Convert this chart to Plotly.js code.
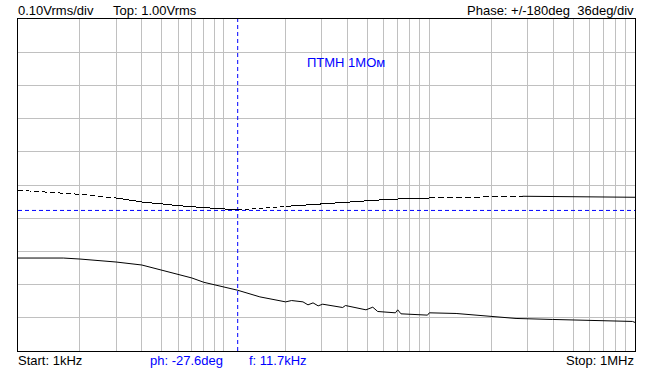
<!DOCTYPE html>
<html>
<head>
<meta charset="utf-8">
<script src="https://cdn.plot.ly/plotly-3.0.1.min.js"></script>
<style>html,body{margin:0;padding:0;background:#fff;}#chart{width:653px;height:369px;}
#chart .scatterlayer path.js-line{shape-rendering:crispEdges;}
#chart .scatterlayer g.trace:nth-last-child(-n+2) path.js-line{shape-rendering:auto;}</style>
</head>
<body>
<div id="chart"></div>
<script>
// Magnitude trace (Vrms) vs frequency (kHz)
var magFreqKHz = [1.0, 1.66, 2.0, 2.5, 3.0, 4.0, 5.0, 6.0, 7.0, 8.0, 9.0, 10, 11.7, 15, 20, 21.4, 24.3, 25.7, 27.2, 28.8, 30.3, 37.9, 39.1, 49.2, 53.1, 56.1, 68.4, 70.2, 72.8, 98, 100, 135, 196, 264, 398, 623, 973, 1000];
var magVrms    = [0.280, 0.280, 0.277, 0.273, 0.268, 0.259, 0.243, 0.231, 0.220, 0.207, 0.200, 0.192, 0.183, 0.163, 0.148, 0.152, 0.148, 0.139, 0.145, 0.136, 0.141, 0.131, 0.137, 0.124, 0.132, 0.119, 0.115, 0.124, 0.112, 0.108, 0.115, 0.113, 0.105, 0.098, 0.095, 0.092, 0.089, 0.086];

// Phase trace (deg) vs frequency (kHz)
var phaseFreqKHz = [1, 2, 3, 4, 5, 6, 8, 10, 11.7, 15, 20, 30.3, 37.9, 49.2, 64, 100, 196, 284, 600, 1000];
var phaseDeg     = [-5.7, -10.1, -14.1, -18.4, -20.5, -22.4, -24.5, -25.9, -27.0, -24.9, -23.2, -20.5, -18.7, -17.0, -15.5, -14.1, -13.0, -12.2, -13.0, -13.3];

// Cursor readout
var cursorFreqKHz = 11.7;
var cursorPhaseDeg = -27.6;

// Axis settings
var startHz = 1000, stopHz = 1e6;
var topVrms = 1.00, voltsPerDiv = 0.10;
var phaseMax = 180, degPerDiv = 36;

// Labels
var labelTopLeft = "0.10Vrms/div";
var labelTop = "Top: 1.00Vrms";
var labelPhase = "Phase: +/-180deg  36deg/div";
var labelStart = "Start: 1kHz";
var labelStop = "Stop: 1MHz";
var labelPh = "ph: -27.6deg";
var labelF = "f: 11.7kHz";
var labelName = "ПТМН 1МОм";

var gridVals = [];
[1000, 10000, 100000].forEach(function(d){ for (var k = 1; k <= 9; k++) gridVals.push(k*d); });
gridVals.push(1e6);

var toHz = function(a){ return a.map(function(v){ return v*1000; }); };

var traces = [];
traces.push({x: toHz(magFreqKHz), y: magVrms, mode: 'lines', line: {color: '#000', width: 1}, hoverinfo: 'skip', showlegend: false});

// phase split into dash-style segments (index ranges)
var segs = [[0,2,'5px,3px'],[2,8,'solid'],[8,10,'4px,3px'],[10,15,'solid'],[15,17,'6px,3px'],[17,19,'solid']];
var phHz = toHz(phaseFreqKHz);
segs.forEach(function(s){
  traces.push({x: phHz.slice(s[0], s[1]+1), y: phaseDeg.slice(s[0], s[1]+1), yaxis: 'y2', mode: 'lines',
    line: {color: '#000', width: 1, dash: s[2]}, hoverinfo: 'skip', showlegend: false});
});

// cursor lines
traces.push({x: [cursorFreqKHz*1000, cursorFreqKHz*1000], y: [0, topVrms], mode: 'lines',
  line: {color: '#0000ff', width: 1, dash: '4px,3px'}, hoverinfo: 'skip', showlegend: false});
traces.push({x: [startHz, stopHz], y: [cursorPhaseDeg, cursorPhaseDeg], yaxis: 'y2', mode: 'lines',
  line: {color: '#0000ff', width: 1, dash: '4px,3px'}, hoverinfo: 'skip', showlegend: false});

var L = 18, R = 635.5, T = 18.5, B = 351.5;
function px(x){ return (x - L)/(R - L); }
function py(y){ return (B - y)/(B - T); }
var fnt = {family: 'Liberation Sans, Arial, sans-serif', size: 13, color: '#000'};
var blue = {family: 'Liberation Sans, Arial, sans-serif', size: 13, color: '#0000ff'};
function ann(text, x, y, anchor, font){
  return {text: text, xref: 'paper', yref: 'paper', x: px(x), y: py(y), xanchor: anchor, yanchor: 'middle',
    showarrow: false, font: font, borderpad: 0};
}
var annotations = [
  ann(labelTopLeft, 17, 10, 'left', fnt),
  ann(labelTop, 112, 10, 'left', fnt),
  ann(labelPhase, 636, 10, 'right', fnt),
  ann(labelStart, 17, 361, 'left', fnt),
  ann(labelPh, 149, 361, 'left', blue),
  ann(labelF, 248, 361, 'left', blue),
  ann(labelStop, 635, 361, 'right', fnt),
  ann(labelName, 306, 62, 'left', blue)
];

var layout = {
  width: 653, height: 369,
  margin: {l: L, r: 653 - R, t: T, b: 369 - B, pad: 0},
  paper_bgcolor: '#fff', plot_bgcolor: '#fff',
  showlegend: false,
  xaxis: {type: 'log', range: [Math.log10(startHz), Math.log10(stopHz)], tickvals: gridVals, showticklabels: false,
    ticks: '', showgrid: true, gridcolor: '#c0c0c0', gridwidth: 1, zeroline: false,
    showline: true, mirror: true, linecolor: '#000', linewidth: 1, fixedrange: true},
  yaxis: {range: [0, topVrms], dtick: voltsPerDiv, tick0: 0, showticklabels: false, ticks: '',
    showgrid: true, gridcolor: '#c0c0c0', gridwidth: 1, zeroline: false,
    showline: true, mirror: true, linecolor: '#000', linewidth: 1, fixedrange: true},
  yaxis2: {range: [-phaseMax, phaseMax], dtick: degPerDiv, overlaying: 'y', side: 'right', showgrid: false,
    showticklabels: false, ticks: '', zeroline: false, showline: false, fixedrange: true},
  annotations: annotations
};

Plotly.newPlot('chart', traces, layout, {staticPlot: true, displayModeBar: false});
</script>
</body>
</html>
